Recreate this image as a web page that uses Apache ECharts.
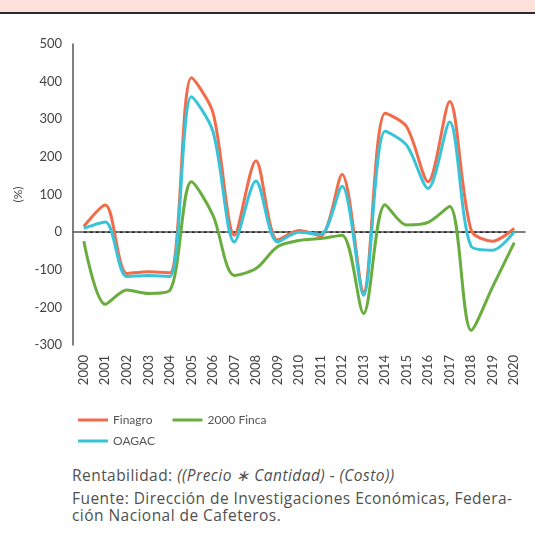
<!DOCTYPE html>
<html>
<head>
<meta charset="utf-8">
<script src="https://cdn.jsdelivr.net/npm/echarts@6/dist/echarts.min.js"></script>
<style>
html,body{margin:0;padding:0;background:#fff;}
#wrap{position:relative;width:535px;height:544px;overflow:hidden;font-family:"Open Sans",Lato,sans-serif;}
#band{position:absolute;left:0;top:0;width:535px;height:12px;background:#fde0d9;border-bottom:2px solid #2b2b2b;}
#chart{position:absolute;left:0;top:0;width:535px;height:460px;}
#notes{position:absolute;left:72px;top:467px;width:463px;color:#505050;font-size:15.5px;line-height:17px;letter-spacing:0.45px;}
#notes p{margin:0 0 6px 0;}
</style>
</head>
<body>
<div id="wrap">
<div id="chart"></div>
<div id="band"></div>
<div id="notes">
<p>Rentabilidad: <i>((Precio ∗ Cantidad) - (Costo))</i></p>
<p>Fuente: Dirección de Investigaciones Económicas, Federa-<br>ción Nacional de Cafeteros.</p>
</div>
</div>
<script>
const years = ['2000','2001','2002','2003','2004','2005','2006','2007','2008','2009','2010','2011','2012','2013','2014','2015','2016','2017','2018','2019','2020'];
const finagro = [15, 72, -110, -105, -108, 410, 318, -8, 190, -21, 4, -10, 153, -159, 316, 280, 134, 347, 5, -24, 10];
const finca2000 = [-24, -192, -154, -163, -155, 134, 45, -115, -97, -39, -22, -17, -8, -216, 73, 19, 26, 68, -261, -145, -28];
const oagac = [10, 27, -118, -115, -118, 360, 268, -26, 136, -26, 0, -6, 122, -168, 268, 231, 116, 293, -38, -48, 1];
const zeroLine = [0,0,0,0,0,0,0,0,0,0,0,0,0,0,0,0,0,0,0,0,0];
const yTicks = {min: -300, max: 500, interval: 100};

const chart = echarts.init(document.getElementById('chart'), null, {renderer: 'canvas'});
const txt = '#444';
const font = 'Lato';
function line(name, data, color) {
  return {name: name, type: 'line', data: data, smooth: 0.3, showSymbol: false, symbol: 'none',
    lineStyle: {color: color, width: 3}, itemStyle: {color: color}, z: 3};
}
chart.setOption({
  animation: false,
  grid: {left: 73, right: 10, top: 44, bottom: 115, containLabel: false},
  legend: [
    {data: ['Finagro', '2000 Finca'], left: 73, top: 409, icon: 'rect', itemWidth: 30, itemHeight: 3, itemGap: 20,
     textStyle: {color: '#555', fontSize: 12, fontFamily: font}},
    {data: ['OAGAC'], left: 73, top: 430, icon: 'rect', itemWidth: 30, itemHeight: 3, itemGap: 20,
     textStyle: {color: '#555', fontSize: 12, fontFamily: font}}
  ],
  xAxis: {type: 'category', data: years, boundaryGap: true,
    axisLine: {lineStyle: {color: '#555', width: 1.5}}, axisTick: {show: false},
    axisLabel: {rotate: 90, color: txt, fontSize: 13, fontFamily: font, margin: 10, interval: 0},
    splitLine: {show: false}},
  yAxis: {type: 'value', min: yTicks.min, max: yTicks.max, interval: yTicks.interval,
    name: '(%)', nameLocation: 'middle', nameGap: 43, nameRotate: 90,
    nameTextStyle: {color: txt, fontSize: 12, fontFamily: font},
    axisLine: {show: true, lineStyle: {color: '#555', width: 1.5}}, axisTick: {show: false},
    axisLabel: {color: txt, fontSize: 13, fontFamily: font, margin: 11},
    splitLine: {show: false}},
  series: [
    {name: 'zero', type: 'line', data: zeroLine, showSymbol: false, symbol: 'none',
     lineStyle: {color: '#111', width: 1.3, type: [3, 3]}, z: 2, silent: true},
    line('Finagro', finagro, '#f26b4a'),
    line('2000 Finca', finca2000, '#6aad3f'),
    line('OAGAC', oagac, '#38c4d8')
  ]
});
</script>
</body>
</html>
